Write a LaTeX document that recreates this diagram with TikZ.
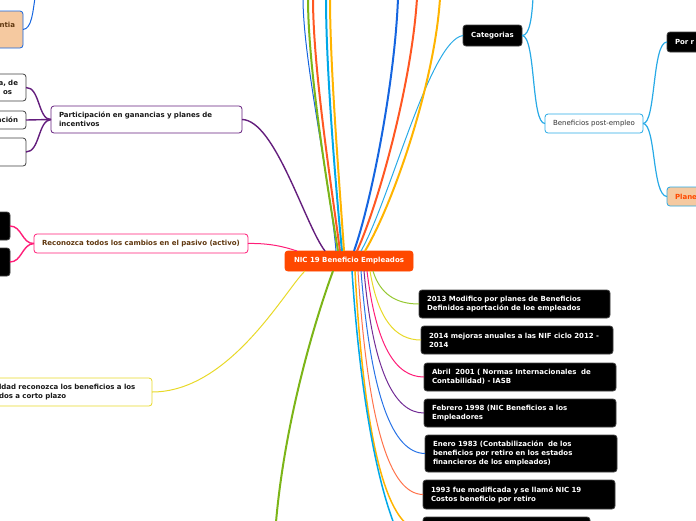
\documentclass[tikz,border=0pt]{standalone}
\usepackage{fontspec}
\setmainfont{DejaVu Sans}
\definecolor{corg}{RGB}{255,72,0}
\definecolor{cpur}{RGB}{100,30,125}
\definecolor{cpink}{RGB}{255,30,120}
\definecolor{cyel}{RGB}{232,217,40}
\definecolor{cgold}{RGB}{255,180,0}
\definecolor{cgreen}{RGB}{124,181,24}
\definecolor{clgreen}{RGB}{150,200,50}
\definecolor{cblue}{RGB}{21,101,224}
\definecolor{cmblue}{RGB}{40,115,230}
\definecolor{cred}{RGB}{255,87,34}
\definecolor{clred}{RGB}{255,115,75}
\definecolor{ccyan}{RGB}{0,168,232}
\definecolor{ctcyan}{RGB}{40,170,230}
\definecolor{cpeach}{RGB}{245,201,160}
\definecolor{cbrown}{RGB}{95,55,15}
\definecolor{cmpur}{RGB}{115,45,150}
\begin{document}
\begin{tikzpicture}[x=1pt,y=-1pt,
  every node/.style={font=\fontsize{7}{9}\selectfont\bfseries, inner sep=0pt, outer sep=0pt},
  box/.style={draw, rounded corners=3pt, line width=0.8pt, align=left, inner xsep=8pt, inner ysep=0pt},
  blackbox/.style={box, fill=black, draw=black!75, text=white},
  whitebox/.style={box, fill=white, text=black!90},
  link/.style={line width=1pt},
  thick link/.style={line width=2pt},
]
\useasboundingbox (0,0) rectangle (696,520);
\clip (0,0) rectangle (696,520);

% central node
\node[box, fill=corg, draw=corg, text=white, align=center, minimum width=128pt, minimum height=20pt] (c) at (349,261) {NIC 19 Beneficio Empleados};

% left side
\node[whitebox, draw=cpur, anchor=north west, text width=175pt, minimum height=27pt] (part) at (51,106) {Participación en ganancias y planes de\\incentivos};
\node[whitebox, draw=black!75, anchor=north east, align=right, text width=44pt, minimum height=27pt] (pc1) at (26,74) {a, de\\os\hspace*{6pt}};
\node[whitebox, draw=black!75, anchor=north east, align=right, text width=44pt, minimum height=18pt] (pc2) at (26,111) {ación};
\node[whitebox, draw=black!75, anchor=north east, text width=44pt, minimum height=28pt] (pc3) at (26,138) {};

\node[whitebox, draw=cpink, text=cbrown, anchor=north west, align=center, minimum width=213pt, minimum height=19pt] (rec) at (34,234) {Reconozca todos los cambios en el pasivo (activo)};
\node[blackbox, anchor=north east, text width=24pt, minimum height=28pt] (rc1) at (10,212) {};
\node[blackbox, anchor=north east, text width=24pt, minimum height=28pt] (rc2) at (10,248) {};

\node[whitebox, draw=cyel, anchor=north east, text width=145pt, minimum height=28pt] (corto) at (152,378) {ldad reconozca los beneficios a los\\dos a corto plazo};

\node[box, fill=cpeach, draw=cblue, text=cbrown, anchor=north east, align=right, text width=34pt, minimum height=37pt] (peach) at (23,11) {ntia\\\mbox{}};

% right side
\node[blackbox, anchor=north west, align=center, minimum width=59pt, minimum height=21pt] (cat) at (463,25) {Categorias};
\node[whitebox, draw=ctcyan, text=black!80, anchor=north west, align=center, minimum width=98pt, minimum height=19pt, font=\fontsize{7}{9}\selectfont\mdseries] (post) at (545,114) {Beneficios post-empleo};
\node[blackbox, anchor=north west, text width=50pt, minimum height=20pt] (por) at (667,32) {Por r};
\node[box, fill=cpeach, draw=ctcyan, text=corg, anchor=north west, text width=50pt, minimum height=19pt] (plane) at (667,187) {Plane};

% timeline nodes
\node[blackbox, anchor=north west, text width=175pt, minimum height=28pt] (n1) at (419,290) {2013 Modifico por planes de Beneficios\\Definidos aportación de loe empleados};
\node[blackbox, anchor=north west, text width=176pt, minimum height=28pt] (n2) at (421,326) {2014 mejoras anuales a las NIF ciclo 2012 -\\2014};
\node[blackbox, anchor=north west, text width=176pt, minimum height=28pt] (n3) at (424,363) {Abril\ \ 2001 ( Normas Internacionales\ \ de\\Contabilidad) - IASB};
\node[blackbox, anchor=north west, text width=176pt, minimum height=28pt] (n4) at (424,399) {Febrero 1998 (NIC Beneficios a los\\Empleadores};
\node[blackbox, anchor=north west, text width=176pt, minimum height=37pt] (n5) at (425,435) {Enero 1983 (Contabilización\ \ de los\\beneficios por retiro en los estados\\financieros de los empleados)};
\node[blackbox, anchor=north west, text width=176pt, minimum height=29pt] (n6) at (423,480) {1993 fue modificada y se llamó NIC 19\\Costos beneficio por retiro};
\node[blackbox, anchor=north west, text width=151pt, minimum height=28pt] (n7) at (423,517) {};

% free ends
\coordinate (t1) at (303,-2);
\coordinate (t2) at (308,-2);
\coordinate (t3) at (313,-2);
\coordinate (t4) at (326,-2);
\coordinate (t5) at (330,-2);
\coordinate (t6) at (398,-2);
\coordinate (t7) at (417,-2);
\coordinate (t8) at (440,-2);
\coordinate (t9) at (533,-2);
\coordinate (tp) at (35,-2);
\coordinate (gd) at (276,522);
\coordinate (cd) at (430,570);

% connectors: left
\draw[cpur, line width=1.4pt] (part.east) .. controls (275,120) and (305,225) .. ([xshift=-24pt]c.north);
\draw[cpink, link] (rec.east) .. controls (270,243) and (285,247) .. ([xshift=-52pt]c.north);
\draw[cyel, link] (corto.east) .. controls (230,392) and (285,290) .. ([xshift=-44pt]c.south);
\draw[cgreen, thick link] ([xshift=-16pt]c.south) .. controls (315,320) and (285,420) .. (gd);

\draw[cpur, line width=1.4pt] (part.west) .. controls (38,120) and (40,87) .. (pc1.east);
\draw[cpur, line width=1.4pt] (part.west) -- (pc2.east);
\draw[cpur, line width=1.4pt] (part.west) .. controls (38,120) and (40,152) .. (pc3.east);
\draw[cpink, line width=1.4pt] (rec.west) .. controls (22,244) and (22,226) .. (rc1.east);
\draw[cpink, line width=1.4pt] (rec.west) .. controls (22,244) and (22,262) .. (rc2.east);
\draw[cblue, link] (peach.east) .. controls (32,29) and (33,10) .. (tp);

% connectors: top bundle
\draw[cblue, link] ([xshift=-13pt]c.north) .. controls (330,180) and (303,60) .. (t1);
\draw[cgreen, thick link] ([xshift=-11pt]c.north) .. controls (328,190) and (308,70) .. (t2);
\draw[cred, thick link] ([xshift=-9pt]c.north) .. controls (332,190) and (313,70) .. (t3);
\draw[ccyan, thick link] ([xshift=-7pt]c.north) .. controls (336,190) and (326,70) .. (t4);
\draw[cgold, thick link] ([xshift=-5pt]c.north) .. controls (340,190) and (330,70) .. (t5);
\draw[cblue, thick link] ([xshift=5pt]c.north) .. controls (372,200) and (395,80) .. (t6);
\draw[cred, thick link] ([xshift=8pt]c.north) .. controls (380,200) and (412,80) .. (t7);
\draw[ctcyan, link] ([xshift=12pt]c.north) .. controls (390,200) and (430,40) .. (cat.west);
\draw[cgold, thick link] ([xshift=16pt]c.north) .. controls (395,200) and (435,80) .. (t8);

% connectors: right
\draw[ctcyan, line width=1.2pt] (cat.east) .. controls (530,36) and (532,15) .. (t9);
\draw[ctcyan, line width=1.2pt] (cat.east) .. controls (536,36) and (531,124) .. (post.west);
\draw[ctcyan, line width=1.2pt] (post.east) .. controls (656,124) and (652,42) .. (por.west);
\draw[ctcyan, line width=1.2pt] (post.east) .. controls (656,124) and (652,196) .. (plane.west);

% connectors: timeline
\draw[clgreen, link] ([xshift=24pt]c.south) .. controls (380,294) and (396,304) .. (n1.west);
\draw[cyel, link] ([xshift=21pt]c.south) .. controls (378,319) and (395,340) .. (n2.west);
\draw[cpink, link] ([xshift=18pt]c.south) .. controls (376,345) and (395,377) .. (n3.west);
\draw[cmpur, link] ([xshift=15pt]c.south) .. controls (373,370) and (394,413) .. (n4.west);
\draw[cmblue, link] ([xshift=12pt]c.south) .. controls (371,398) and (393,453) .. (n5.west);
\draw[clred, link] ([xshift=9pt]c.south) .. controls (368,427) and (390,494) .. (n6.west);
\draw[cgold, line width=1.5pt] ([xshift=6pt]c.south) .. controls (365,453) and (389,531) .. (n7.west);
\draw[ccyan, line width=1.5pt] ([xshift=3pt]c.south) .. controls (365,470) and (400,570) .. (cd);
\end{tikzpicture}
\end{document}
